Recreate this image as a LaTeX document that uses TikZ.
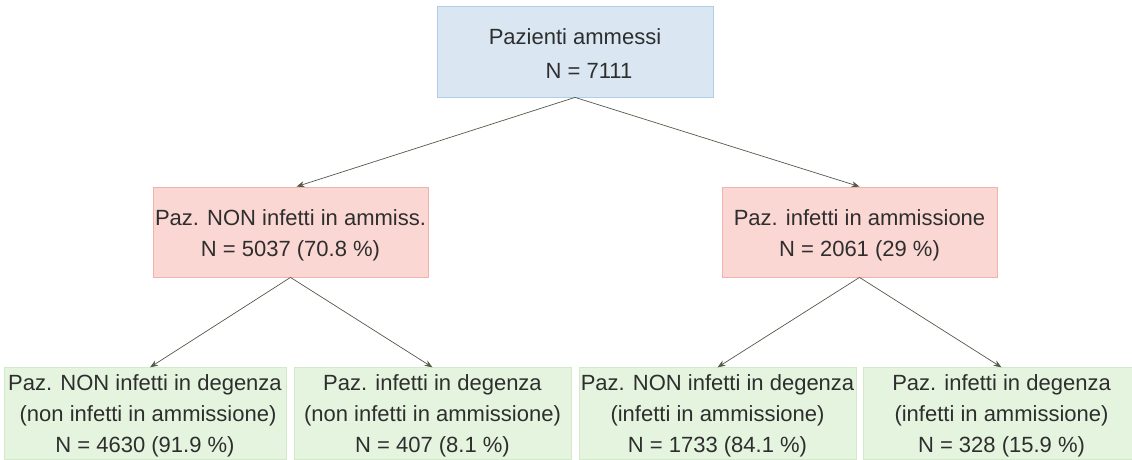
\documentclass[tikz,border=0pt]{standalone}
\usepackage{fontspec}
\setmainfont{Liberation Sans}
\usetikzlibrary{arrows.meta}
\definecolor{txt}{HTML}{2E2E2E}
\definecolor{bluefill}{HTML}{DAE7F3}
\definecolor{blueline}{HTML}{B2CDEA}
\definecolor{redfill}{HTML}{FBD7D4}
\definecolor{redline}{HTML}{F3B1AD}
\definecolor{greenfill}{HTML}{E5F4DF}
\definecolor{greenline}{HTML}{D2EACA}
\definecolor{arrowc}{HTML}{4F5A47}
\newcommand{\tstrut}[1]{\rule{0pt}{#1}}
\tikzset{
  box/.style={draw, line width=0.8pt, inner sep=0pt, align=center, text=txt,
    font=\fontsize{22}{31}\selectfont},
  topbox/.style={box, fill=bluefill, draw=blueline, minimum width=276pt, minimum height=91pt,
    font=\fontsize{22}{34}\selectfont},
  midbox/.style={box, fill=redfill, draw=redline, minimum width=275pt, minimum height=90pt,
    font=\fontsize{22}{31}\selectfont},
  lowbox/.style={box, fill=greenfill, draw=greenline, minimum height=91.5pt},
  conn/.style={draw=arrowc, line width=0.7pt, -{Stealth[length=8pt,width=6pt]}}
}
\begin{document}
\begin{tikzpicture}[x=1pt,y=-1pt]
\useasboundingbox (0,0) rectangle (1132,460);
\clip (0,0) rectangle (1132,460);
\node[topbox] (top) at (575,51.5) {\tstrut{19pt}Pazienti ammessi\\\hspace*{28pt}N = 7111};
\node[midbox] (ml) at (290.5,232) {\tstrut{22pt}Paz. NON infetti in ammiss.\\N = 5037 (70.8 \%)};
\node[midbox] (mr) at (859.5,232) {\tstrut{22pt}Paz. infetti in ammissione\\N = 2061 (29 \%)};
\node[lowbox, minimum width=282pt] (b1) at (145,413.5) {\tstrut{20pt}Paz. NON infetti in degenza\\\ (non infetti in ammissione)\\N = 4630 (91.9 \%)};
\node[lowbox, minimum width=277pt] (b2) at (432.5,413.5) {\tstrut{20pt}Paz. infetti in degenza\\(non infetti in ammissione)\\N = 407 (8.1 \%)};
\node[lowbox, minimum width=277pt] (b3) at (717.5,413.5) {\tstrut{20pt}Paz. NON infetti in degenza\\(infetti in ammissione)\\N = 1733 (84.1 \%)};
\node[lowbox, minimum width=277pt] (b4) at (1001.5,413.5) {\tstrut{20pt}Paz. infetti in degenza\\(infetti in ammissione)\\N = 328 (15.9 \%)};
\draw[conn] (top.south) -- ([xshift=6pt]ml.north);
\draw[conn] (top.south) -- (mr.north);
\draw[conn] (ml.south) -- ([xshift=5pt]b1.north);
\draw[conn] (ml.south) -- (b2.north);
\draw[conn] (mr.south) -- (b3.north);
\draw[conn] (mr.south) -- (b4.north);
\end{tikzpicture}
\end{document}
